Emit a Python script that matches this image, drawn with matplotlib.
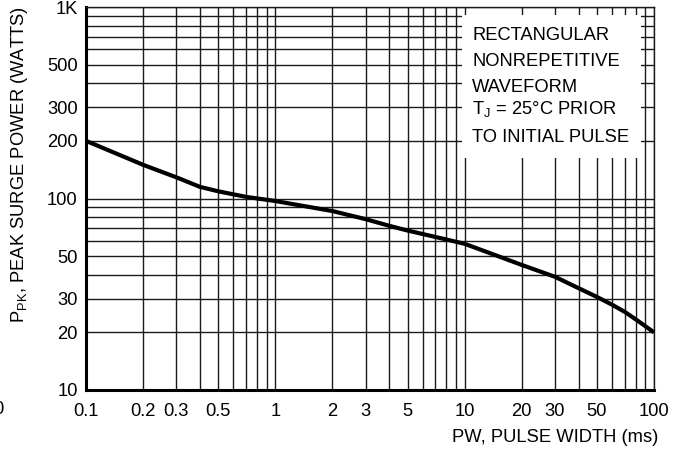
import matplotlib
matplotlib.use("Agg")
import matplotlib.pyplot as plt
from matplotlib.patches import Rectangle
import numpy as np

# ---- data ----
pulse_width_ms = [0.1, 0.2, 0.3, 0.4, 0.5, 0.7, 1, 2, 3, 4, 5, 7, 10, 20, 30, 40, 50, 60, 70, 80, 100]
peak_power_w = [200, 150, 129, 115, 109, 102, 97, 86, 78, 72, 68, 63, 58, 45, 39, 34, 30.6, 27.9, 25.6, 23.4, 20]

x_tick_values = [0.1, 0.2, 0.3, 0.5, 1, 2, 3, 5, 10, 20, 30, 50, 100]
x_tick_labels = ["0.1", "0.2", "0.3", "0.5", "1", "2", "3", "5", "10", "20", "30", "50", "100"]
y_tick_values = [10, 20, 30, 50, 100, 200, 300, 500, 1000]
y_tick_labels = ["10", "20", "30", "50", "100", "200", "300", "500", "1K"]

note_lines = ["RECTANGULAR", "NONREPETITIVE", "WAVEFORM",
              "T$_{\\mathrm{J}}$ = 25°C PRIOR", "TO INITIAL PULSE"]

main_font = 'Liberation Sans'
fs = 13.2

plt.rcParams['font.family'] = [main_font, 'DejaVu Sans']
plt.rcParams['mathtext.fontset'] = 'custom'
plt.rcParams['mathtext.rm'] = main_font
plt.rcParams['mathtext.it'] = main_font
plt.rcParams['mathtext.bf'] = main_font

W, H = 678, 453
fig = plt.figure(figsize=(W / 100, H / 100), dpi=100)
L, R, T, B = 86, 654, 7, 390
ax = fig.add_axes([L / W, 1 - B / H, (R - L) / W, (B - T) / H])

ax.set_xscale('log')
ax.set_yscale('log')
ax.set_xlim(0.1, 100)
ax.set_ylim(10, 1000)

grid_color = '#1a1a1a'
# grid lines at every 1..9 multiple in each decade
xgrid = [m * 10.0 ** e for e in range(-1, 2) for m in range(1, 10)] + [100]
ygrid = [m * 10.0 ** e for e in range(1, 3) for m in range(1, 10)] + [1000]
for gx in xgrid:
    ax.axvline(gx, color=grid_color, lw=1.0, zorder=1)
for gy in ygrid:
    ax.axhline(gy, color=grid_color, lw=1.0, zorder=1)

# white note box covering the grid
bx0 = (462 - L) / (R - L)
bx1 = (641 - L) / (R - L)
by1 = (B - 15) / (B - T)
by0 = (B - 158) / (B - T)
ax.add_patch(Rectangle((bx0, by0), bx1 - bx0, by1 - by0, transform=ax.transAxes,
                       facecolor='white', edgecolor='none', zorder=2))

ax.plot(pulse_width_ms, peak_power_w, color='black', lw=3.0, zorder=4,
        solid_capstyle='butt', solid_joinstyle='round', clip_on=False)

# ticks
ax.xaxis.set_minor_locator(matplotlib.ticker.NullLocator())
ax.yaxis.set_minor_locator(matplotlib.ticker.NullLocator())
ax.set_xticks(x_tick_values, x_tick_labels)
ax.set_yticks(y_tick_values, y_tick_labels)
ax.tick_params(axis='both', length=0, labelsize=fs, colors='black')
ax.tick_params(axis='x', pad=9)
ax.tick_params(axis='y', pad=6)

for s in ['top', 'right']:
    ax.spines[s].set_linewidth(1.0)
    ax.spines[s].set_color(grid_color)
for s in ['left', 'bottom']:
    ax.spines[s].set_linewidth(2.2)
    ax.spines[s].set_color('black')
for s in ax.spines.values():
    s.set_zorder(3)

# note text
tx = (472 - L) / (R - L)
for line, py in zip(note_lines, [35, 62, 88, 109, 137]):
    ax.text(tx, (B - py) / (B - T), line, transform=ax.transAxes, ha='left', va='center',
            fontsize=fs, zorder=5)

# axis labels
ax.set_ylabel("P$_{\\mathrm{PK}}$, PEAK SURGE POWER (WATTS)", fontsize=fs, va='center')
ax.yaxis.set_label_coords((19 - L) / (R - L), (B - 165) / (B - T))
ax.text((658 - L) / (R - L), (B - 437) / (B - T), "PW, PULSE WIDTH (ms)",
        transform=ax.transAxes, ha='right', va='center', fontsize=fs, clip_on=False)

# cut-off fragment at the left edge
fig.text(3 / W, 1 - 410 / H, "0", ha='right', va='center', fontsize=fs)

fig.savefig("out.png", dpi=100)
